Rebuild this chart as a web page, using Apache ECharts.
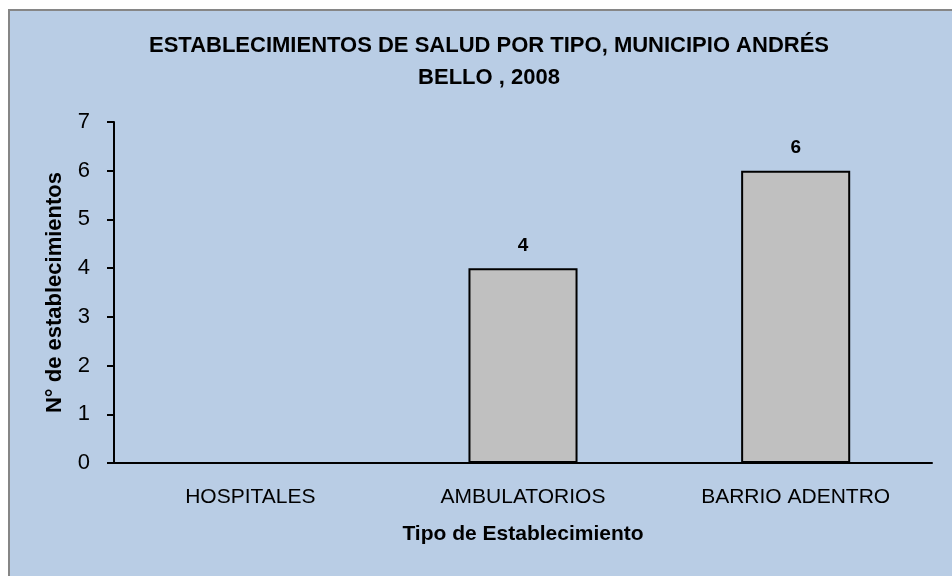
<!DOCTYPE html>
<html><head><meta charset="utf-8">
<script src="https://cdn.jsdelivr.net/npm/echarts@6/dist/echarts.min.js"></script>
<style>html,body{margin:0;padding:0;background:#fff}#c{width:952px;height:576px}</style>
</head><body><div id="c"></div>
<script>
const categories = ['HOSPITALES', 'AMBULATORIOS', 'BARRIO ADENTRO'];
const values = [0, 4, 6];
const yTicks = [0, 1, 2, 3, 4, 5, 6, 7];
const titleText = 'ESTABLECIMIENTOS DE SALUD POR TIPO, MUNICIPIO ANDRÉS\nBELLO , 2008';
const yName = 'N° de establecimientos';
const xName = 'Tipo de Establecimiento';

const FF = '"Liberation Sans Narrow", "Arial Narrow", "Liberation Sans", sans-serif';
const chart = echarts.init(document.getElementById('c'));
chart.setOption({
  animation: false,
  backgroundColor: '#ffffff',
  graphic: [{
    type: 'rect', left: 8, top: 9, z: -10,
    shape: { width: 960, height: 580 },
    style: { fill: '#b9cde5', stroke: '#868686', lineWidth: 2 }
  }],
  title: {
    text: titleText, left: 484, top: 25, textAlign: 'center',
    textStyle: { fontFamily: FF, fontSize: 22, fontWeight: 'bold', color: '#000', lineHeight: 32 }
  },
  grid: { left: 114, right: 20, top: 122, bottom: 113, containLabel: false },
  xAxis: {
    type: 'category', data: categories,
    name: xName, nameLocation: 'middle', nameGap: 61,
    nameTextStyle: { fontFamily: FF, fontSize: 21, fontWeight: 'bold', color: '#000' },
    axisLine: { lineStyle: { color: '#000', width: 2 } },
    axisTick: { show: false },
    axisLabel: { fontFamily: FF, fontSize: 21, color: '#000', margin: 24 }
  },
  yAxis: {
    type: 'value', min: yTicks[0], max: yTicks[yTicks.length - 1], interval: 1,
    name: yName, nameLocation: 'middle', nameGap: 48, nameRotate: 90,
    nameTextStyle: { fontFamily: FF, fontSize: 22, fontWeight: 'bold', color: '#000' },
    axisLine: { show: true, lineStyle: { color: '#000', width: 2 } },
    axisTick: { show: true, length: 7, lineStyle: { color: '#000', width: 2 } },
    splitLine: { show: false },
    axisLabel: { fontFamily: FF, fontSize: 22, color: '#000', margin: 24 }
  },
  series: [{
    type: 'bar', data: values, barWidth: '40%',
    itemStyle: { color: '#c0c0c0', borderColor: '#000', borderWidth: 2 },
    label: {
      show: true, position: 'top', distance: 13,
      fontFamily: FF, fontSize: 19, fontWeight: 'bold', color: '#000',
      formatter: p => p.value === 0 ? '' : String(p.value)
    }
  }]
});
</script></body></html>
